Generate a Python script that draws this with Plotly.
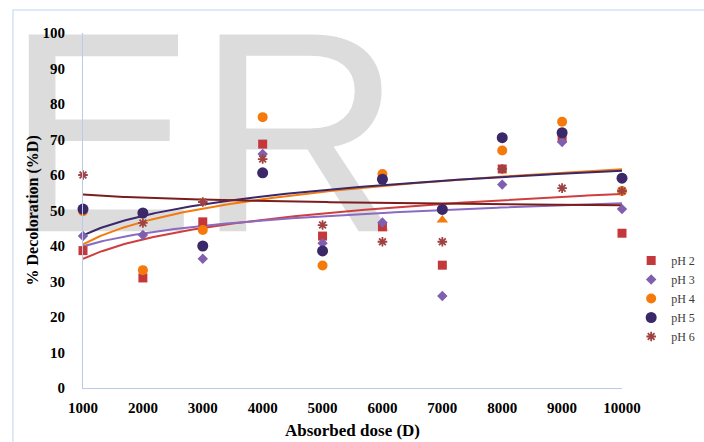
import numpy as np
import plotly.graph_objects as go

doses = [1000, 2000, 3000, 4000, 5000, 6000, 7000, 8000, 9000, 10000]
ph2 = [38.7, 31.0, 46.8, 68.7, 42.8, 45.4, 34.6, 61.7, 70.4, 43.6]
ph3 = [42.8, 43.1, 36.4, 65.9, 40.8, 46.6, 25.9, 57.3, 69.3, 50.4]
ph4 = [49.8, 33.2, 44.5, 76.3, 34.5, 60.3, 47.3, 66.9, 75.0, 55.5]
ph5 = [50.4, 49.3, 40.0, 60.6, 38.6, 58.8, 50.3, 70.5, 71.9, 59.1]
ph6 = [60.0, 46.5, 52.4, 64.5, 45.9, 41.2, 41.2, 61.7, 56.3, 55.5]
y_ticks = [0, 10, 20, 30, 40, 50, 60, 70, 80, 90, 100]

series = [
    ("pH 2", ph2, "#c4373b", "#cf3f40", "square", 9),
    ("pH 3", ph3, "#7f5fae", "#8a6bc0", "diamond", 8),
    ("pH 4", ph4, "#f47a0c", "#f47a0c", "circle", 10),
    ("pH 5", ph5, "#3a2868", "#3a2868", "circle", 11),
    ("pH 6", ph6, "#a04242", "#7c1d1d", "asterisk-open", 8),
]

fig = go.Figure()

# watermark (behind data)
fig.add_trace(go.Scatter(
    x=[3020], y=[64.3], mode="text", text=["ER"],
    textfont=dict(family="Liberation Sans", size=286, color="#dcdcdc"),
    textposition="middle center", cliponaxis=False, showlegend=False,
    hoverinfo="skip"))

xs = np.linspace(1000, 10000, 200)
# logarithmic trend lines (fitted)
for name, vals, mcol, lcol, sym, sz in series:
    a, b = np.polyfit(np.log(doses), vals, 1)
    fig.add_trace(go.Scatter(
        x=xs, y=a * np.log(xs) + b, mode="lines",
        line=dict(color=lcol, width=2), showlegend=False, hoverinfo="skip"))

for name, vals, mcol, lcol, sym, sz in series:
    symbols = [sym] * len(vals)
    if name == "pH 4":
        symbols[6] = "triangle-up"
    marker = dict(color=mcol, size=sz, symbol=symbols)
    if sym == "asterisk-open":
        marker["line"] = dict(color=mcol, width=1.8)
    fig.add_trace(go.Scatter(
        x=doses, y=vals, mode="markers", name=name, marker=marker,
        cliponaxis=False))

axis_col = "#b8cbe8"
fig.update_layout(
    width=704, height=442,
    margin=dict(l=83, r=82, t=33, b=54, autoexpand=False),
    paper_bgcolor="white", plot_bgcolor="rgba(0,0,0,0)",
    showlegend=True,
    legend=dict(x=1.017, xanchor="left", y=0.40, yanchor="top",
                font=dict(family="Liberation Serif", size=12, color="#3a3a3a"),
                bgcolor="rgba(0,0,0,0)", itemwidth=30),
    xaxis=dict(range=[1000, 10000], tickvals=doses,
               ticktext=[str(d) for d in doses], automargin=False,
               showgrid=False, zeroline=False, showline=True,
               linecolor=axis_col, linewidth=1, ticks="",
               ticklabelstandoff=6,
               tickfont=dict(family="Liberation Serif", size=15, color="black", weight="bold"),
               title=dict(text="Absorbed dose (D)", standoff=9,
                          font=dict(family="Liberation Serif", size=17, color="black", weight="bold"))),
    yaxis=dict(range=[0, 100], tickvals=y_ticks, automargin=False,
               showgrid=False, zeroline=False, showline=True,
               linecolor=axis_col, linewidth=1, ticks="",
               ticklabelstandoff=14,
               tickfont=dict(family="Liberation Serif", size=15, color="black", weight="bold")),
    annotations=[dict(text="% Decoloration (%D)", xref="paper", yref="paper",
                      x=-0.0928, y=0.5, textangle=-90, showarrow=False,
                      xanchor="center", yanchor="middle",
                      font=dict(family="Liberation Serif", size=16, color="black", weight="bold"))],
    shapes=[dict(type="rect", xref="paper", yref="paper",
                 x0=-0.130, x1=1.4, y0=-0.4, y1=1.0648,
                 line=dict(color="#d6e3f5", width=1.5), layer="below")],
)

fig.write_html("out.html", config={"displayModeBar": False},
               post_script="document.body.style.margin='0';")
